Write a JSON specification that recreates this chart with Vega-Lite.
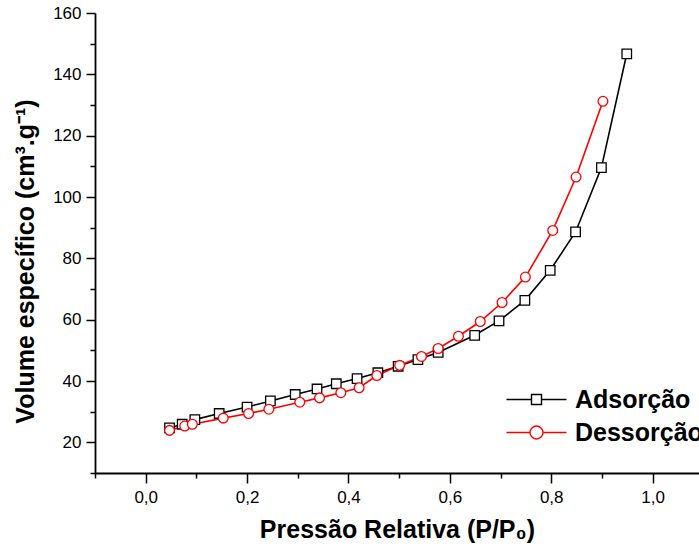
{
  "$schema": "https://vega.github.io/schema/vega-lite/v6.json",
  "autosize": {"type": "none"},
  "padding": {"left": 95, "top": 13, "right": 0, "bottom": 82},
  "width": 604,
  "height": 460,
  "background": "white",
  "config": {"view": {"stroke": null}, "font": "Liberation Sans"},
  "data": {"values": [
    {"serie": "Adsorção", "p": 0.047, "v": 24.7},
    {"serie": "Adsorção", "p": 0.072, "v": 25.9},
    {"serie": "Adsorção", "p": 0.097, "v": 27.4},
    {"serie": "Adsorção", "p": 0.145, "v": 29.4},
    {"serie": "Adsorção", "p": 0.2, "v": 31.5},
    {"serie": "Adsorção", "p": 0.246, "v": 33.5},
    {"serie": "Adsorção", "p": 0.295, "v": 35.6},
    {"serie": "Adsorção", "p": 0.338, "v": 37.4},
    {"serie": "Adsorção", "p": 0.376, "v": 39.1},
    {"serie": "Adsorção", "p": 0.417, "v": 40.8},
    {"serie": "Adsorção", "p": 0.458, "v": 42.7},
    {"serie": "Adsorção", "p": 0.498, "v": 44.8},
    {"serie": "Adsorção", "p": 0.537, "v": 47.0},
    {"serie": "Adsorção", "p": 0.577, "v": 49.3},
    {"serie": "Adsorção", "p": 0.649, "v": 54.9},
    {"serie": "Adsorção", "p": 0.697, "v": 59.6},
    {"serie": "Adsorção", "p": 0.748, "v": 66.3},
    {"serie": "Adsorção", "p": 0.798, "v": 76.1},
    {"serie": "Adsorção", "p": 0.848, "v": 88.6},
    {"serie": "Adsorção", "p": 0.899, "v": 109.6},
    {"serie": "Adsorção", "p": 0.949, "v": 146.7},
    {"serie": "Dessorção", "p": 0.047, "v": 23.9},
    {"serie": "Dessorção", "p": 0.077, "v": 25.3},
    {"serie": "Dessorção", "p": 0.092, "v": 25.9},
    {"serie": "Dessorção", "p": 0.153, "v": 27.9},
    {"serie": "Dessorção", "p": 0.203, "v": 29.4},
    {"serie": "Dessorção", "p": 0.243, "v": 30.8},
    {"serie": "Dessorção", "p": 0.304, "v": 33.1},
    {"serie": "Dessorção", "p": 0.343, "v": 34.5},
    {"serie": "Dessorção", "p": 0.385, "v": 36.2},
    {"serie": "Dessorção", "p": 0.421, "v": 37.8},
    {"serie": "Dessorção", "p": 0.456, "v": 41.8},
    {"serie": "Dessorção", "p": 0.501, "v": 45.1},
    {"serie": "Dessorção", "p": 0.544, "v": 48.0},
    {"serie": "Dessorção", "p": 0.577, "v": 50.6},
    {"serie": "Dessorção", "p": 0.617, "v": 54.6},
    {"serie": "Dessorção", "p": 0.66, "v": 59.4},
    {"serie": "Dessorção", "p": 0.703, "v": 65.6},
    {"serie": "Dessorção", "p": 0.749, "v": 73.9},
    {"serie": "Dessorção", "p": 0.803, "v": 89.1},
    {"serie": "Dessorção", "p": 0.849, "v": 106.5},
    {"serie": "Dessorção", "p": 0.902, "v": 131.2}
  ]},
  "encoding": {
    "x": {
      "field": "p", "type": "quantitative",
      "scale": {"domain": [-0.1, 1.0915], "nice": false, "zero": false},
      "axis": {
        "title": "Pressão Relativa (P/P₀)",
        "titleFont": "Liberation Sans", "titleFontSize": 25, "titleFontWeight": "bold", "titleColor": "black",
        "titlePadding": 12,
        "values": [-0.1, 0, 0.1, 0.2, 0.3, 0.4, 0.5, 0.6, 0.7, 0.8, 0.9, 1.0],
        "labelExpr": "abs(round(datum.value*10)) % 2 == 0 ? replace(format(datum.value, '.1f'), '.', ',') : ''",
        "labelFont": "Liberation Sans", "labelFontSize": 17, "labelColor": "black",
        "labelPadding": 6,
        "tickSize": {"condition": {"test": "abs(round(datum.value*10)) % 2 == 0", "value": 10}, "value": 5},
        "tickColor": "black", "tickWidth": 1.5,
        "domainColor": "black", "domainWidth": 1.8,
        "grid": false, "labelFlush": false, "labelOverlap": false
      }
    },
    "y": {
      "field": "v", "type": "quantitative",
      "scale": {"domain": [10, 160], "nice": false, "zero": false},
      "axis": {
        "title": "Volume específico (cm³.g⁻¹)",
        "titleFont": "Liberation Sans", "titleFontSize": 25, "titleFontWeight": "bold", "titleColor": "black",
        "titlePadding": 14,
        "titleY": 248,
        "values": [10, 20, 30, 40, 50, 60, 70, 80, 90, 100, 110, 120, 130, 140, 150, 160],
        "labelExpr": "round(datum.value) % 20 == 0 ? format(datum.value, 'd') : ''",
        "labelFont": "Liberation Sans", "labelFontSize": 17, "labelColor": "black",
        "labelPadding": 5,
        "tickSize": {"condition": {"test": "round(datum.value) % 20 == 0", "value": 9}, "value": 5},
        "tickColor": "black", "tickWidth": 1.5,
        "domainColor": "black", "domainWidth": 1.8,
        "grid": false, "labelFlush": false, "labelOverlap": false
      }
    },
    "color": {
      "field": "serie", "type": "nominal",
      "scale": {"domain": ["Adsorção", "Dessorção"], "range": ["black", "#ff0000"]},
      "legend": {
        "orient": "none", "legendX": 429, "legendY": 374,
        "title": null, "padding": 0,
        "labelFont": "Liberation Sans", "labelFontSize": 25, "labelFontWeight": "bold", "labelColor": "black",
        "labelOffset": 26, "rowPadding": 7, "labelLimit": 300,
        "symbolSize": 100, "symbolStrokeWidth": 1.4, "symbolFillColor": "white"
      }
    }
  },
  "layer": [
    {"mark": {"type": "line", "strokeWidth": 1.6}},
    {
      "transform": [{"filter": "datum.serie === 'Adsorção'"}],
      "mark": {"type": "point", "shape": "square", "filled": false, "fill": "white", "fillOpacity": 1, "opacity": 1, "size": 90, "strokeWidth": 1.3}
    },
    {
      "transform": [{"filter": "datum.serie === 'Dessorção'"}],
      "mark": {"type": "point", "shape": "circle", "filled": false, "fill": "white", "fillOpacity": 1, "opacity": 1, "size": 95, "strokeWidth": 1.3}
    },
    {
      "transform": [{"filter": "false"}],
      "mark": {"type": "point", "filled": false, "fill": "white", "opacity": 1, "strokeWidth": 1.4},
      "encoding": {
        "shape": {
          "field": "serie", "type": "nominal",
          "scale": {"domain": ["Adsorção", "Dessorção"], "range": [
            "M-6,0H-1M1,0H6M-1,-1H1V1H-1Z",
            "M-6,0H-1.3M1.3,0H6M-1.3,0A1.3,1.3,0,1,1,1.3,0A1.3,1.3,0,1,1,-1.3,0Z"
          ]},
          "legend": {
            "orient": "none", "legendX": 429, "legendY": 374,
            "title": null, "padding": 0,
            "labelFont": "Liberation Sans", "labelFontSize": 25, "labelFontWeight": "bold", "labelColor": "black",
            "labelOffset": 26, "rowPadding": 7, "labelLimit": 300,
            "symbolSize": 100, "symbolStrokeWidth": 1.4, "symbolFillColor": "white"
          }
        }
      }
    }
  ]
}
